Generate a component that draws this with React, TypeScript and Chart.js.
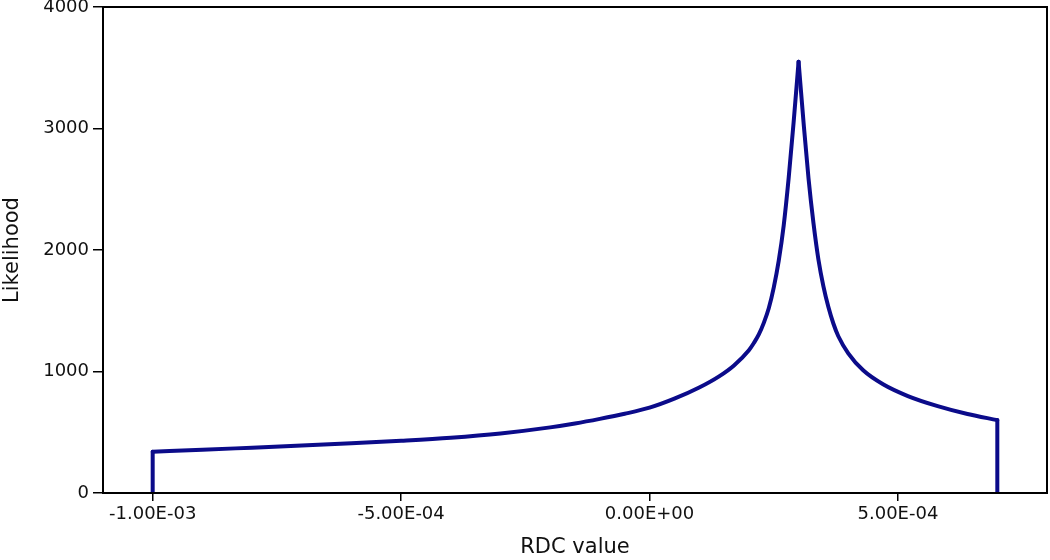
import React, { useEffect, useRef } from "react";
import { Chart, registerables } from "chart.js";

Chart.register(...registerables);

// RDC values (x) and likelihood (y)
const rdcValues = [
  -1.0e-3, -1.0e-3, -9.0e-4, -8.0e-4, -7.0e-4, -6.0e-4, -5.0e-4, -4.0e-4, -3.0e-4,
  -2.0e-4, -1.5e-4, -1.0e-4, -0.5e-4, 0, 0.5e-4, 1.0e-4, 1.4e-4, 1.7e-4, 2.0e-4,
  2.1e-4, 2.2e-4, 2.3e-4, 2.4e-4, 2.5e-4, 2.6e-4, 2.7e-4, 2.8e-4, 2.9e-4,
  3.0e-4,
  3.1e-4, 3.2e-4, 3.3e-4, 3.4e-4, 3.5e-4, 3.6e-4, 3.7e-4, 3.8e-4,
  4.0e-4, 4.3e-4, 4.7e-4, 5.2e-4, 5.8e-4, 6.4e-4, 7.0e-4, 7.0e-4,
];
const likelihood = [
  0, 340, 356, 373, 390, 409, 430, 455, 490,
  540, 572, 610, 652, 702, 776, 868, 960, 1050, 1175,
  1235, 1305, 1400, 1520, 1690, 1910, 2200, 2590, 3050,
  3550,
  3050, 2590, 2220, 1920, 1700, 1530, 1395, 1290,
  1150, 1010, 895, 798, 715, 650, 600, 0,
];
const xTickValues = [-1.0e-3, -5.0e-4, 0, 5.0e-4];
const xTickLabels = ["-1.00E-03", "-5.00E-04", "0.00E+00", "5.00E-04"];
const yTickValues = [0, 1000, 2000, 3000, 4000];

const boxPlugin = {
  id: "boxPlugin",
  afterDraw(chart: any) {
    const { ctx, chartArea } = chart;
    ctx.save();
    ctx.strokeStyle = "#000";
    ctx.lineWidth = 2;
    ctx.strokeRect(chartArea.left, chartArea.top, chartArea.right - chartArea.left, chartArea.bottom - chartArea.top);
    ctx.restore();
  },
};

export default function App() {
  const ref = useRef<HTMLCanvasElement>(null);
  useEffect(() => {
    if (!ref.current) return;
    const points = rdcValues.map((x, i) => ({ x, y: likelihood[i] }));
    const n = points.length;
    let peak = 0;
    likelihood.forEach((v, i) => {
      if (v > likelihood[peak]) peak = i;
    });
    const segments = [
      { data: points.slice(0, 2), smooth: false },
      { data: points.slice(1, peak + 1), smooth: true },
      { data: points.slice(peak, n - 1), smooth: true },
      { data: points.slice(n - 2), smooth: false },
    ];
    const font = "'DejaVu Sans', sans-serif";
    const chart = new Chart(ref.current, {
      type: "scatter",
      data: {
        datasets: segments.map((s) => ({
          data: s.data,
          showLine: true,
          borderColor: "#0b0b8a",
          borderWidth: 4,
          pointRadius: 0,
          tension: 0,
          cubicInterpolationMode: s.smooth ? "monotone" : "default",
          borderJoinStyle: "round",
          borderCapStyle: "round",
        })) as any,
      },
      options: {
        animation: false,
        responsive: false,
        maintainAspectRatio: false,
        layout: { padding: { top: 7, right: 3, left: 0, bottom: 0 } },
        plugins: { legend: { display: false }, tooltip: { enabled: false } },
        scales: {
          x: {
            type: "linear",
            min: -1.1e-3,
            max: 0.8e-3,
            afterBuildTicks: (s: any) => {
              s.ticks = xTickValues.map((v) => ({ value: v }));
            },
            afterFit: (s: any) => {
              s.height = 67;
              s.paddingLeft = 0;
              s.paddingRight = 0;
            },
            border: { display: false },
            grid: { drawOnChartArea: false, tickLength: 8, color: "#000", lineWidth: 1.5 },
            ticks: {
              color: "#111",
              font: { family: font, size: 18 },
              padding: 3,
              maxRotation: 0,
              callback: (v: any) => {
                const i = xTickValues.findIndex((t) => Math.abs(t - v) < 1e-9);
                return i >= 0 ? xTickLabels[i] : "";
              },
            },
            title: {
              display: true,
              text: "RDC value",
              color: "#111",
              font: { family: font, size: 21 },
              padding: { top: 0, bottom: 0 },
            },
          },
          y: {
            type: "linear",
            min: 0,
            max: 4000,
            afterBuildTicks: (s: any) => {
              s.ticks = yTickValues.map((v) => ({ value: v }));
            },
            afterFit: (s: any) => {
              s.width = 103;
              s.paddingTop = 0;
              s.paddingBottom = 0;
            },
            border: { display: false },
            grid: { drawOnChartArea: false, tickLength: 10, color: "#000", lineWidth: 1.5 },
            ticks: {
              color: "#111",
              font: { family: font, size: 18 },
              padding: 4,
              callback: (v: any) => String(v),
            },
            title: {
              display: true,
              text: "Likelihood",
              color: "#111",
              font: { family: font, size: 21 },
              padding: { top: 0, bottom: 0 },
            },
          },
        },
      },
      plugins: [boxPlugin],
    } as any);
    return () => chart.destroy();
  }, []);
  return (
    <div style={{ position: "fixed", left: 0, top: 0, width: 1050, height: 560, background: "#fff" }}>
      <canvas ref={ref} width={1050} height={560} style={{ width: 1050, height: 560 }} />
    </div>
  );
}
